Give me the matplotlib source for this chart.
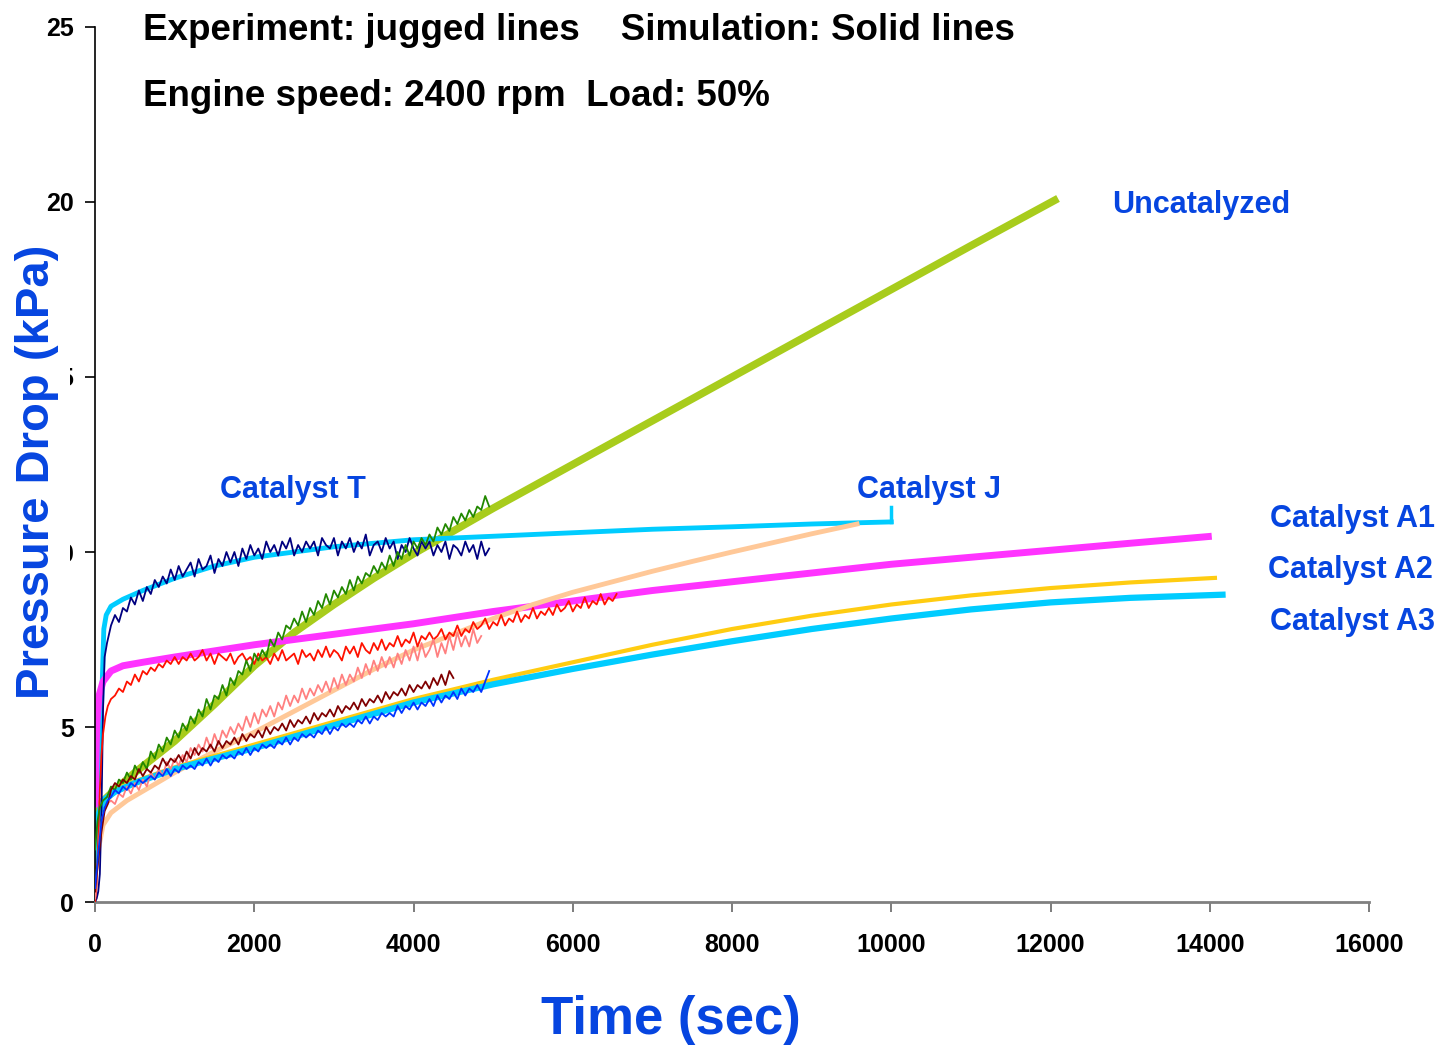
import matplotlib.pyplot as plt
from matplotlib.patches import Rectangle

plt.rcParams['font.family'] = ['Liberation Sans', 'DejaVu Sans']

# ---- simulation curves (solid) ----
uncat_sim_t = [0, 60, 200, 500, 1000, 1500, 2000, 2500, 3000, 3500, 4000, 4500, 5000,
               6000, 7000, 8000, 9000, 10000, 11000, 12094]
uncat_sim = [1.8, 2.8, 3.1, 3.7, 4.6, 5.65, 6.75, 7.7, 8.5, 9.25, 9.95, 10.6, 11.25,
             12.5, 13.75, 15.0, 16.25, 17.5, 18.75, 20.1]

T_sim_t = [0, 40, 80, 110, 140, 200, 350, 600, 1000, 1500, 2000, 2500, 3000, 3500, 4000,
           5000, 6000, 7000, 8000, 9000, 10000]
T_sim = [2.8, 3.3, 5.5, 7.8, 8.2, 8.45, 8.65, 8.9, 9.25, 9.6, 9.85, 10.0, 10.15, 10.25, 10.35,
         10.45, 10.55, 10.65, 10.72, 10.8, 10.86]

A1_sim_t = [0, 20, 50, 100, 200, 350, 600, 1000, 2000, 3000, 4000, 5000, 6000, 7000, 8000,
            9000, 10000, 11000, 12000, 13000, 14025]
A1_sim = [2.7, 5.0, 5.9, 6.3, 6.6, 6.75, 6.85, 7.0, 7.35, 7.65, 7.95, 8.3, 8.6, 8.9, 9.15,
          9.4, 9.65, 9.85, 10.05, 10.25, 10.45]

J_sim_t = [0, 50, 100, 200, 400, 700, 1000, 1500, 2000, 2500, 3000, 3500, 4000, 4500, 5000,
           5500, 6000, 6500, 7000, 7500, 8000, 8500, 9000, 9570]
J_sim = [0.9, 1.6, 2.2, 2.55, 2.9, 3.3, 3.7, 4.3, 4.85, 5.45, 6.05, 6.65, 7.2, 7.65, 8.1,
         8.5, 8.85, 9.15, 9.45, 9.73, 10.0, 10.26, 10.52, 10.8]

A2_sim_t = [0, 30, 100, 250, 500, 1000, 2000, 3000, 4000, 5000, 6000, 7000, 8000, 9000, 10000,
            11000, 12000, 13000, 14065]
A2_sim = [1.0, 2.3, 2.9, 3.2, 3.45, 3.85, 4.5, 5.15, 5.8, 6.35, 6.85, 7.35, 7.8, 8.18, 8.5,
          8.76, 8.97, 9.13, 9.26]

A3_sim_t = [0, 30, 100, 250, 500, 1000, 2000, 3000, 4000, 5000, 6000, 7000, 8000, 9000, 10000,
            11000, 12000, 13000, 14160]
A3_sim = [1.2, 2.4, 2.9, 3.15, 3.4, 3.8, 4.4, 5.05, 5.7, 6.22, 6.66, 7.07, 7.45, 7.8, 8.1,
          8.36, 8.56, 8.69, 8.78]

# ---- experimental records (jagged), logged every 50 s after start-up ----
T_exp_t = [0, 20, 40, 60, 80, 100, 120, 150] + list(range(200, 4951, 50))
T_exp = [0.0, 0.1, 0.3, 0.8, 2.5, 5.5, 7.0, 7.4,
         7.9, 8.2, 8.0, 8.4, 8.3, 8.7, 8.5, 8.9, 8.6, 9.0,
         8.8, 9.2, 9.0, 9.3, 9.1, 9.5, 9.2, 9.6, 9.3, 9.5,
         9.7, 9.3, 9.8, 9.5, 9.6, 9.9, 9.4, 9.8, 9.6, 10.0,
         9.7, 10.0, 9.6, 10.1, 9.8, 10.2, 9.9, 10.1, 9.8, 10.3,
         10.0, 10.2, 9.9, 10.3, 10.1, 10.4, 9.9, 10.2, 10.0, 10.3,
         10.1, 10.3, 9.9, 10.4, 10.2, 10.1, 10.4, 9.9, 10.3, 10.1,
         10.4, 10.0, 10.3, 10.1, 10.5, 9.9, 10.2, 10.3, 10.0, 10.4,
         10.1, 10.3, 9.8, 10.2, 10.0, 10.4, 10.1, 9.9, 10.3, 10.1,
         10.3, 9.9, 10.2, 10.0, 10.3, 9.8, 10.2, 10.1, 9.9, 10.3,
         10.0, 10.2, 9.8, 10.3, 9.9, 10.1]

A1_exp_t = [0, 20, 40, 60, 80, 100, 130, 160] + list(range(200, 6551, 50))
A1_exp = [0.0, 0.5, 1.8, 3.2, 4.2, 4.8, 5.3, 5.6,
          5.8, 5.9, 6.1, 6.0, 6.3, 6.2, 6.5, 6.3, 6.6, 6.5,
          6.7, 6.6, 6.8, 6.7, 6.9, 6.8, 7.0, 6.8, 7.0, 6.9,
          7.1, 6.9, 7.0, 7.2, 6.9, 7.1, 6.8, 7.1, 7.0, 6.9,
          7.1, 6.8, 7.0, 7.1, 6.9, 7.0, 6.8, 7.1, 6.9, 7.0,
          6.8, 7.1, 6.9, 7.2, 6.9, 7.0, 7.1, 6.8, 7.2, 7.0,
          7.1, 6.9, 7.2, 7.0, 7.3, 7.0, 7.2, 7.1, 6.9, 7.3,
          7.1, 7.3, 7.0, 7.4, 7.2, 7.1, 7.4, 7.2, 7.5, 7.2,
          7.4, 7.3, 7.6, 7.3, 7.5, 7.4, 7.7, 7.3, 7.6, 7.5,
          7.7, 7.5, 7.6, 7.8, 7.5, 7.7, 7.6, 7.9, 7.6, 7.8,
          7.7, 8.0, 7.8, 7.9, 8.1, 7.8, 8.0, 7.9, 8.2, 7.9,
          8.1, 8.0, 8.3, 8.0, 8.2, 8.1, 8.4, 8.1, 8.3, 8.2,
          8.4, 8.2, 8.5, 8.3, 8.4, 8.6, 8.3, 8.5, 8.4, 8.7,
          8.4, 8.6, 8.5, 8.8, 8.5, 8.7, 8.6, 8.8]

uncat_exp_t = [0, 30, 60, 100, 150] + list(range(200, 4951, 50))
uncat_exp = [1.5, 2.3, 2.7, 2.9, 3.0,
             3.3, 3.2, 3.5, 3.4, 3.7, 3.5, 3.9, 3.7, 4.0, 3.8,
             4.3, 4.1, 4.5, 4.3, 4.7, 4.5, 4.9, 4.7, 5.1, 4.9,
             5.3, 5.1, 5.5, 5.3, 5.8, 5.5, 5.9, 5.8, 6.2, 5.9,
             6.4, 6.2, 6.6, 6.5, 6.9, 6.6, 7.1, 6.9, 7.2, 7.0,
             7.5, 7.3, 7.7, 7.5, 7.9, 7.8, 8.1, 7.9, 8.3, 8.0,
             8.4, 8.2, 8.6, 8.4, 8.8, 8.5, 8.9, 8.7, 9.0, 8.8,
             9.2, 8.9, 9.3, 9.1, 9.4, 9.3, 9.6, 9.4, 9.7, 9.5,
             9.9, 9.6, 10.0, 9.8, 10.2, 9.9, 10.3, 10.1, 10.4, 10.2,
             10.5, 10.3, 10.7, 10.5, 10.8, 10.6, 11.0, 10.8, 11.1, 10.9,
             11.2, 11.0, 11.3, 11.2, 11.6, 11.3]

J_exp_t = [0, 30, 60, 100, 150] + list(range(200, 4851, 50))
J_exp = [0.1, 1.0, 2.0, 2.5, 2.8,
         2.9, 2.8, 3.1, 3.0, 3.3, 3.1, 3.4, 3.2, 3.5, 3.3,
         3.7, 3.5, 3.8, 3.6, 4.0, 3.8, 4.1, 3.9, 4.2, 4.0,
         4.4, 4.2, 4.5, 4.3, 4.7, 4.4, 4.8, 4.5, 4.9, 4.7,
         5.0, 4.8, 5.1, 4.9, 5.3, 5.0, 5.4, 5.1, 5.5, 5.3,
         5.6, 5.3, 5.7, 5.5, 5.9, 5.6, 5.9, 5.7, 6.1, 5.8,
         6.1, 5.9, 6.2, 6.0, 6.3, 6.0, 6.4, 6.1, 6.5, 6.2,
         6.5, 6.3, 6.7, 6.4, 6.8, 6.5, 6.9, 6.6, 7.0, 6.7,
         7.0, 6.7, 7.1, 6.8, 7.2, 6.9, 7.3, 6.9, 7.4, 7.0,
         7.2, 7.5, 7.0, 7.4, 7.1, 7.6, 7.2, 7.7, 7.3, 7.6,
         7.3, 7.8, 7.4, 7.6]

A2_exp_t = [0, 40, 80, 120, 160] + list(range(200, 4501, 50))
A2_exp = [0.3, 1.2, 2.0, 2.6, 2.8,
          3.2, 3.4, 3.3, 3.5, 3.4, 3.6, 3.5, 3.8, 3.6, 3.8,
          3.7, 3.9, 3.8, 4.1, 3.9, 4.1, 4.0, 4.2, 4.0, 4.3,
          4.1, 4.4, 4.2, 4.4, 4.3, 4.5, 4.3, 4.6, 4.4, 4.6,
          4.5, 4.7, 4.5, 4.8, 4.6, 4.8, 4.7, 4.9, 4.7, 5.0,
          4.8, 5.0, 4.9, 5.1, 4.9, 5.2, 5.0, 5.2, 5.1, 5.3,
          5.1, 5.4, 5.2, 5.4, 5.3, 5.5, 5.3, 5.6, 5.4, 5.6,
          5.5, 5.7, 5.5, 5.8, 5.6, 5.8, 5.7, 5.9, 5.7, 6.0,
          5.8, 6.0, 5.9, 6.1, 5.9, 6.2, 6.0, 6.2, 6.1, 6.3,
          6.1, 6.4, 6.2, 6.5, 6.2, 6.6, 6.4]

A3_exp_t = [0, 40, 80, 120, 160] + list(range(200, 4951, 50))
A3_exp = [0.4, 1.4, 2.3, 2.7, 2.9,
          3.0, 3.2, 3.1, 3.3, 3.2, 3.4, 3.3, 3.5, 3.4, 3.5,
          3.6, 3.5, 3.7, 3.6, 3.8, 3.6, 3.8, 3.7, 3.9, 3.8,
          3.9, 3.8, 4.0, 3.9, 4.1, 3.9, 4.1, 4.0, 4.2, 4.1,
          4.2, 4.1, 4.3, 4.2, 4.4, 4.2, 4.4, 4.3, 4.5, 4.4,
          4.5, 4.4, 4.6, 4.5, 4.7, 4.5, 4.7, 4.6, 4.8, 4.7,
          4.8, 4.7, 4.9, 4.8, 5.0, 4.8, 5.0, 4.9, 5.1, 5.0,
          5.1, 5.0, 5.2, 5.1, 5.3, 5.1, 5.3, 5.2, 5.4, 5.3,
          5.4, 5.3, 5.6, 5.4, 5.6, 5.5, 5.7, 5.5, 5.7, 5.6,
          5.8, 5.6, 5.9, 5.7, 5.9, 5.8, 6.0, 5.8, 6.1, 5.9,
          6.1, 6.0, 6.2, 6.0, 6.3, 6.6]

x_ticks = [0, 2000, 4000, 6000, 8000, 10000, 12000, 14000, 16000]
y_ticks = [0, 5, 10, 15, 20, 25]

label_blue = '#0645e0'

fig = plt.figure(figsize=(14.47, 10.49), dpi=100)
ax = fig.add_axes([0.0657, 0.1401, 0.8804, 0.8342])

# simulations
ax.plot(uncat_sim_t, uncat_sim, color='#a8cc1c', lw=5.5, solid_capstyle='butt', zorder=2)
ax.plot(T_sim_t, T_sim, color='#00ccff', lw=3.5, zorder=2)
ax.plot(A1_sim_t, A1_sim, color='#ff33ff', lw=5, solid_capstyle='butt', zorder=2)
ax.plot(J_sim_t, J_sim, color='#ffc898', lw=3.5, zorder=2)
ax.plot(A2_sim_t, A2_sim, color='#ffcc11', lw=3, zorder=2)
ax.plot(A3_sim_t, A3_sim, color='#00ccff', lw=4.5, zorder=2)

# experiments
exp_lw = 1.3
ax.plot(T_exp_t, T_exp, color='#000080', lw=exp_lw, zorder=3)
ax.plot(A1_exp_t, A1_exp, color='#ff1100', lw=exp_lw, zorder=3)
ax.plot(uncat_exp_t, uncat_exp, color='#228800', lw=exp_lw, zorder=3)
ax.plot(J_exp_t, J_exp, color='#ff8080', lw=exp_lw, zorder=3)
ax.plot(A2_exp_t, A2_exp, color='#800000', lw=exp_lw, zorder=3)
ax.plot(A3_exp_t, A3_exp, color='#0033ff', lw=exp_lw, zorder=3)

# leader hook to the Catalyst J label
ax.plot([T_sim_t[-1], T_sim_t[-1]], [T_sim[-1], 11.3], color='#00ccff', lw=2.5, zorder=2)

ax.set_xlim(0, 16000)
ax.set_ylim(0, 25)
ax.set_xticks(x_ticks)
ax.set_yticks(y_ticks)
ax.set_xticklabels([str(v) for v in x_ticks], fontweight='bold', fontsize=18)
ax.set_yticklabels([str(v) for v in y_ticks], fontweight='bold', fontsize=18)
ax.tick_params(axis='y', direction='out', length=7, width=1.2, pad=8, colors='black')
ax.tick_params(axis='x', direction='out', length=7, width=1.2, pad=15, color='#666666')

for s in ['top', 'right']:
    ax.spines[s].set_visible(False)
ax.spines['left'].set_color('black')
ax.spines['left'].set_linewidth(1.2)
ax.spines['bottom'].set_color('#808080')
ax.spines['bottom'].set_linewidth(2)

# curve names
names = [('Uncatalyzed', 12772, 19.91), ('Catalyst T', 1570, 11.77), ('Catalyst J', 9570, 11.77),
         ('Catalyst A1', 14757, 10.94), ('Catalyst A2', 14732, 9.49), ('Catalyst A3', 14757, 8.0)]
for text, x, y in names:
    ax.text(x, y, text, color=label_blue, fontsize=22, fontweight='bold', ha='left', va='center',
            clip_on=False, zorder=5)

fig.text(143 / 1447, 1 - 31 / 1049, 'Experiment: jugged lines    Simulation: Solid lines',
         fontweight='bold', fontsize=26.5, ha='left', va='center')
fig.text(143 / 1447, 1 - 97 / 1049, 'Engine speed: 2400 rpm  Load: 50%',
         fontweight='bold', fontsize=26.5, ha='left', va='center')

fig.text(671 / 1447, 1 - 1020 / 1049, 'Time (sec)', color=label_blue, fontsize=38,
         fontweight='bold', ha='center', va='center')

# axis title sits on a white block over the left tick labels
fig.patches.append(Rectangle((8 / 1447, 1 - 708 / 1049), 62 / 1447, 470 / 1049,
                             transform=fig.transFigure, fc='white', ec='none', zorder=5))
fig.text(37 / 1447, 1 - 472 / 1049, 'Pressure Drop (kPa)', color=label_blue, fontsize=34,
         fontweight='bold', ha='center', va='center', rotation=90, zorder=10)

fig.savefig('out.png', dpi=100)
